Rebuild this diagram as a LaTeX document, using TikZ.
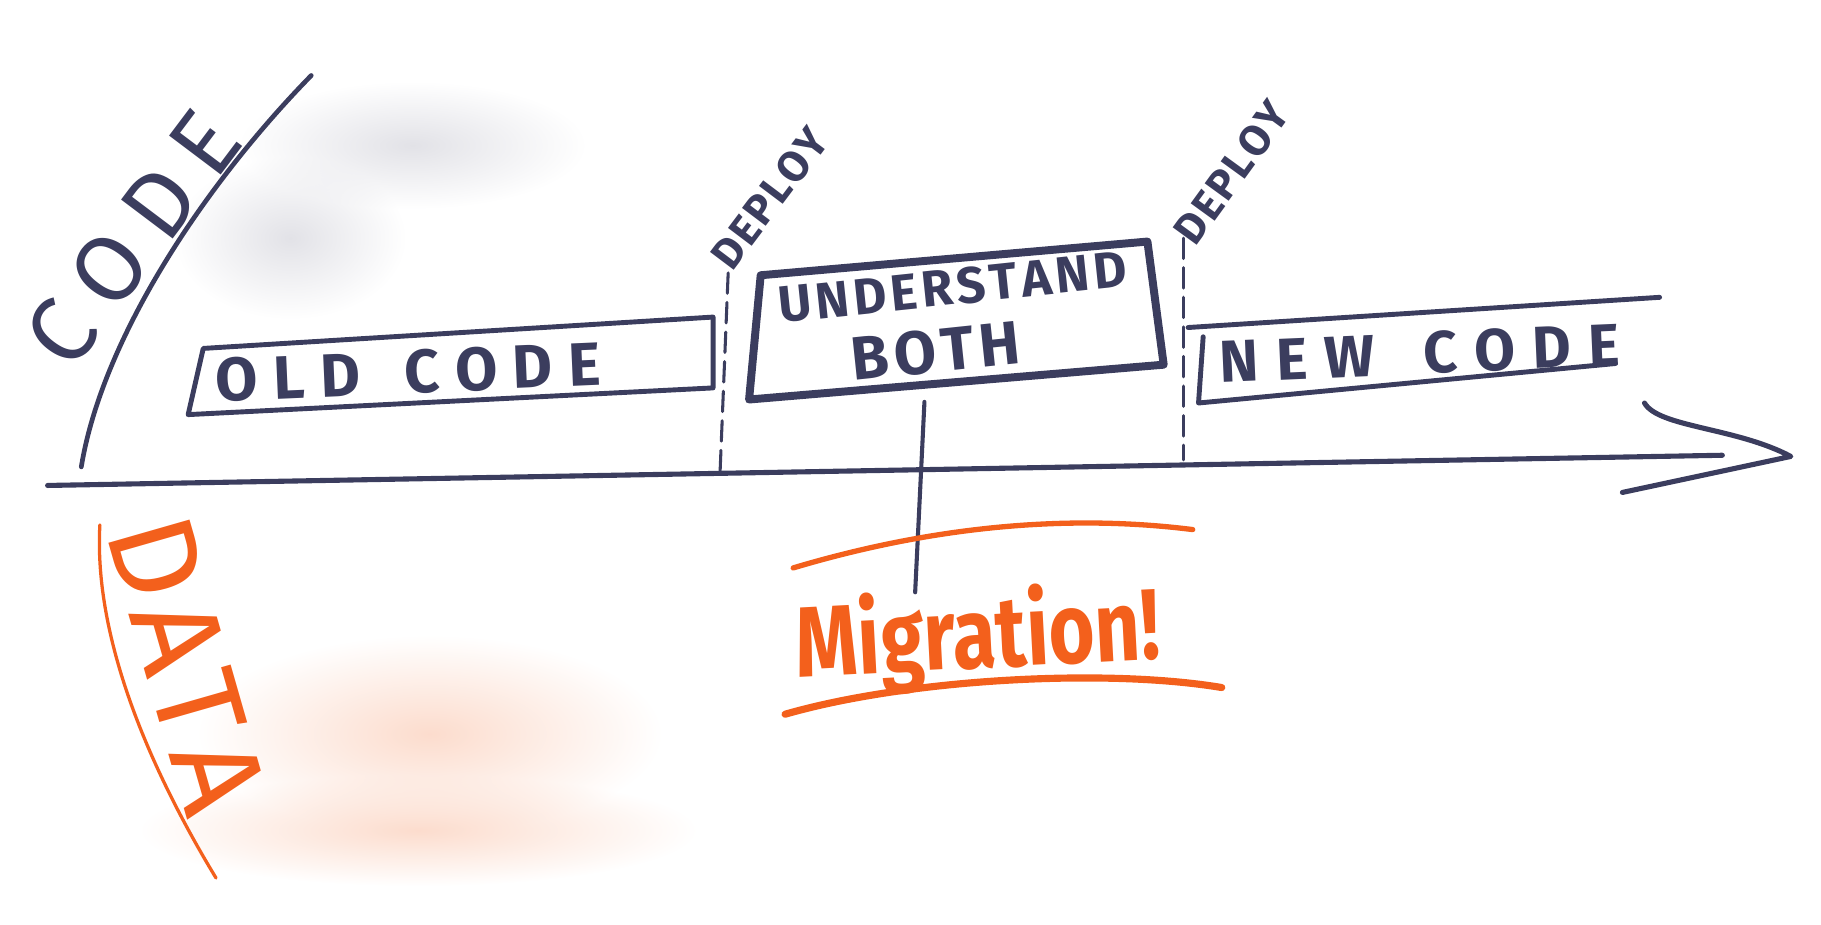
\documentclass[tikz,border=0pt]{standalone}
\usepackage{fontspec}
\setmainfont{Fira Sans}
\usetikzlibrary{fadings}
\definecolor{ink}{RGB}{59,61,94}
\definecolor{orng}{RGB}{243,96,28}
\tikzfading[name=softblob, inner color=transparent!0, outer color=transparent!100]
\newcommand\hwfont[1]{\fontsize{#1}{#1}\selectfont}
\makeatletter
\newcommand\lsp[2]{\def\lsp@k{#1}\lsp@a#2\relax}
\def\lsp@a#1{\ifx\relax#1\else#1\kern\lsp@k\relax\expandafter\lsp@a\fi}
\makeatother
\begin{document}
\begin{tikzpicture}[x=0.02cm,y=-0.02cm, line cap=round, line join=round,
  smudge/.style={path fading=softblob},
  inkline/.style={draw=ink, line width=#1},
  orline/.style={draw=orng, line width=#1},
  boxline/.style={draw=ink, line width=2.4pt},
  dashline/.style={draw=ink, line width=1.5pt, dash pattern=on 10pt off 4.5pt},
  inktext/.style={text=ink, inner sep=0pt},
  ortext/.style={text=orng, inner sep=0pt}]
\useasboundingbox (0,0) rectangle (1568,796);

% soft smudges
\fill[ink!15, smudge] (355,125) ellipse (150 and 55);
\fill[ink!15, smudge] (250,205) ellipse (100 and 70);
\fill[orng!22, smudge] (370,632) ellipse (200 and 85);
\fill[orng!22, smudge] (360,715) ellipse (240 and 48);

% CODE axis
\coordinate (codeBot) at (70,402);
\coordinate (codeTop) at (268,65);
\draw[inkline=2.3pt] (codeBot) .. controls (88,292) and (175,160) .. (codeTop);
\node[inktext, rotate=53] (codeLbl) at (120,198) {\hwfont{46}\lsp{10pt}{CODE}};

% time axis
\coordinate (tStart) at (41,418);
\coordinate (tEnd) at (1483,392);
\coordinate (tipA) at (1416,347);
\coordinate (tip) at (1542,393);
\coordinate (tipB) at (1397,424);
\draw[inkline=2.5pt] (tStart) -- (tEnd);
\draw[inkline=2.5pt] (tipA) .. controls (1428,368) and (1495,368) .. (tip) -- (tipB);

% OLD CODE
\draw[boxline] (175,300) -- (614,273) -- (614,334) -- (162,357) -- cycle;
\node[inktext, rotate=2.5] (oldLbl) at (358,320) {\hwfont{30}\bfseries\lsp{7.5pt}{OLD~CODE}};

% deploy markers
\coordinate (d1top) at (627,235);
\coordinate (d1bot) at (620,407);
\coordinate (d2top) at (1019,205);
\coordinate (d2bot) at (1019,396);
\draw[dashline] (d1top) -- (d1bot);
\draw[dashline] (d2top) -- (d2bot);
\node[inktext, rotate=53] (dep1) at (663,170) {\hwfont{21}\bfseries\lsp{1pt}{DEPLOY}};
\node[inktext, rotate=54] (dep2) at (1061,148) {\hwfont{21}\bfseries\lsp{1pt}{DEPLOY}};

% UNDERSTAND BOTH
\draw[inkline=3.9pt] (655,237) -- (988,208) -- (1002,314) -- (645,344) -- cycle;
\node[inktext, rotate=6] (und) at (822,247) {\hwfont{25}\bfseries\lsp{2pt}{UNDERSTAND}};
\node[inktext, rotate=6] (both) at (808,302) {\hwfont{30}\bfseries\lsp{2.5pt}{BOTH}};

% NEW CODE
\draw[boxline] (1023,282) -- (1429,256);
\draw[boxline] (1036,290) -- (1032,347) -- (1391,313);
\node[inktext, rotate=2.5] (newLbl) at (1230,304) {\hwfont{29}\bfseries\lsp{8.5pt}{NEW~CODE}};

% migration
\coordinate (ubBot) at (796,346);
\coordinate (migTop) at (788,510);
\draw[inkline=2pt] (ubBot) -- (migTop);
\draw[orline=2.6pt] (683,489) .. controls (780,460) and (900,440) .. (1027,456);
\node[ortext, rotate=3] (mig) at (842,550) {\scalebox{0.79}[1]{\hwfont{49}\bfseries Migration!}};
\draw[orline=3.5pt] (676,615) .. controls (780,585) and (950,575) .. (1052,592);

% DATA axis
\coordinate (dataTop) at (86,452);
\coordinate (dataBot) at (186,756);
\draw[orline=1.6pt] (dataTop) .. controls (80,560) and (140,680) .. (dataBot);
\node[ortext, rotate=-74] (dataLbl) at (162,575) {\hwfont{60}\lsp{3pt}{DATA}};
\end{tikzpicture}
\end{document}
